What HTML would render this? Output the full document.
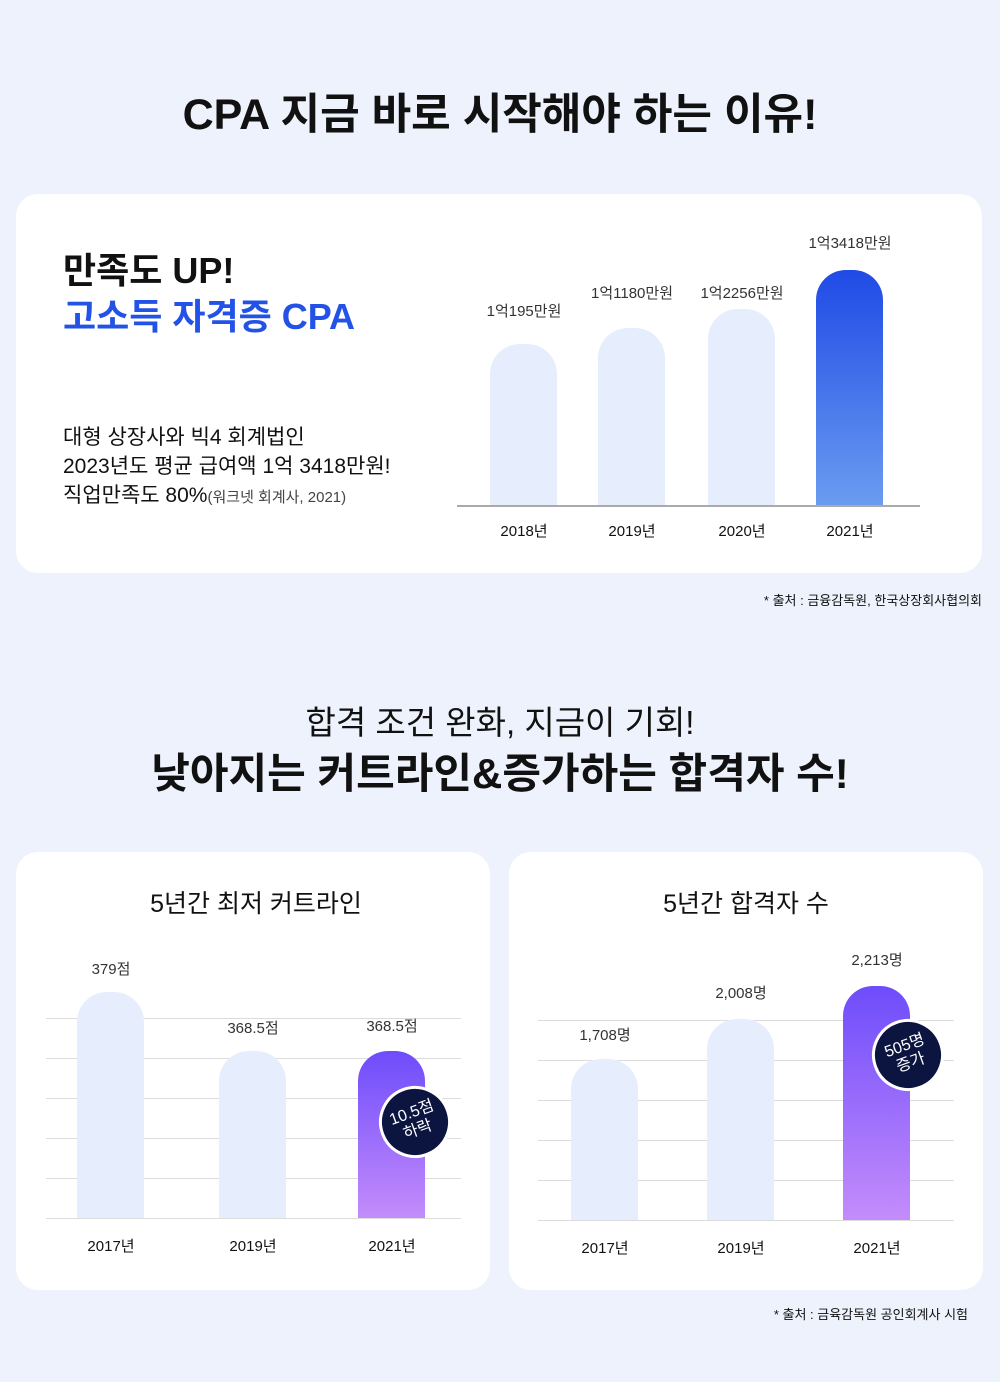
<!DOCTYPE html><html><head><meta charset="utf-8"><style>
*{margin:0;padding:0;box-sizing:border-box}
body{width:1000px;height:1382px;background:#eef2fc;font-family:"Liberation Sans","Noto Sans CJK KR",sans-serif;color:#111;position:relative;overflow:hidden}
.a{position:absolute}
.c{text-align:center;transform:translateX(-50%);white-space:nowrap}
.card{position:absolute;background:#fff;border-radius:22px}
.bar{position:absolute;border-radius:30px 30px 0 0;background:#e6edfd}
.g{position:absolute;height:1px;background:#dcdcdc}
.s{font-size:15px;color:#333}
.y{font-size:15px;color:#111}
.badge{position:absolute;width:72px;height:72px;border-radius:50%;background:#0c1540;border:3px solid #fff;color:#fff;font-size:16px;line-height:18px;display:flex;align-items:center;justify-content:center;text-align:center;transform:rotate(-20deg)}
</style></head><body>
<div class="a c" style="left:500px;top:80px;font-size:43px;font-weight:bold">CPA 지금 바로 시작해야 하는 이유!</div>
<div class="card" style="left:16px;top:194px;width:966px;height:379px"></div>
<div class="a" style="left:63px;top:248px;font-size:36px;font-weight:bold;line-height:46px">만족도 UP!<br><span style="color:#2352e6">고소득 자격증 CPA</span></div>
<div class="a" style="left:63px;top:423px;font-size:21px;line-height:29px">대형 상장사와 빅4 회계법인<br>2023년도 평균 급여액 1억 3418만원!<br>직업만족도 80%<span style="font-size:15px;color:#444">(워크넷 회계사, 2021)</span></div>
<div class="bar" style="left:490px;top:344px;width:67px;height:161px"></div>
<div class="bar" style="left:598px;top:328px;width:67px;height:177px"></div>
<div class="bar" style="left:708px;top:309px;width:67px;height:196px"></div>
<div class="bar" style="left:816px;top:270px;width:67px;height:235px;background:linear-gradient(#1f4ae6,#6a9cf0)"></div>
<div class="g" style="left:457px;top:505px;width:463px;background:#aaa;height:2px"></div>
<div class="a c s" style="left:524px;top:300px">1억195만원</div>
<div class="a c s" style="left:632px;top:282px">1억1180만원</div>
<div class="a c s" style="left:742px;top:282px">1억2256만원</div>
<div class="a c s" style="left:850px;top:232px">1억3418만원</div>
<div class="a c y" style="left:524px;top:520px">2018년</div>
<div class="a c y" style="left:632px;top:520px">2019년</div>
<div class="a c y" style="left:742px;top:520px">2020년</div>
<div class="a c y" style="left:850px;top:520px">2021년</div>
<div class="a" style="right:18px;top:590px;font-size:13px">* 출처 : 금융감독원, 한국상장회사협의회</div>
<div class="a c" style="left:500px;top:696px;font-size:33px">합격 조건 완화, 지금이 기회!</div>
<div class="a c" style="left:500px;top:740px;font-size:42px;font-weight:bold">낮아지는 커트라인&amp;증가하는 합격자 수!</div>
<div class="card" style="left:16px;top:852px;width:474px;height:438px"></div>
<div class="card" style="left:509px;top:852px;width:474px;height:438px"></div>
<div class="a c" style="left:256px;top:884px;font-size:25px">5년간 최저 커트라인</div>
<div class="a c" style="left:746px;top:884px;font-size:25px">5년간 합격자 수</div>
<div class="g" style="left:46px;top:1018px;width:415px"></div><div class="g" style="left:46px;top:1058px;width:415px"></div><div class="g" style="left:46px;top:1098px;width:415px"></div><div class="g" style="left:46px;top:1138px;width:415px"></div><div class="g" style="left:46px;top:1178px;width:415px"></div><div class="g" style="left:46px;top:1218px;width:415px"></div>
<div class="g" style="left:538px;top:1020px;width:416px"></div><div class="g" style="left:538px;top:1060px;width:416px"></div><div class="g" style="left:538px;top:1100px;width:416px"></div><div class="g" style="left:538px;top:1140px;width:416px"></div><div class="g" style="left:538px;top:1180px;width:416px"></div><div class="g" style="left:538px;top:1220px;width:416px"></div>
<div class="bar" style="left:77px;top:992px;width:67px;height:226px"></div>
<div class="bar" style="left:219px;top:1051px;width:67px;height:167px"></div>
<div class="bar" style="left:358px;top:1051px;width:67px;height:167px;background:linear-gradient(#6e4cfb,#c48cfb)"></div>
<div class="bar" style="left:571px;top:1059px;width:67px;height:161px"></div>
<div class="bar" style="left:707px;top:1019px;width:67px;height:201px"></div>
<div class="bar" style="left:843px;top:986px;width:67px;height:234px;background:linear-gradient(#6e4cfb,#c48cfb)"></div>
<div class="a c s" style="left:111px;top:958px">379점</div>
<div class="a c s" style="left:253px;top:1017px">368.5점</div>
<div class="a c s" style="left:392px;top:1015px">368.5점</div>
<div class="a c s" style="left:605px;top:1024px">1,708명</div>
<div class="a c s" style="left:741px;top:982px">2,008명</div>
<div class="a c s" style="left:877px;top:949px">2,213명</div>
<div class="a c y" style="left:111px;top:1235px">2017년</div>
<div class="a c y" style="left:253px;top:1235px">2019년</div>
<div class="a c y" style="left:392px;top:1235px">2021년</div>
<div class="a c y" style="left:605px;top:1237px">2017년</div>
<div class="a c y" style="left:741px;top:1237px">2019년</div>
<div class="a c y" style="left:877px;top:1237px">2021년</div>
<div class="badge" style="left:379px;top:1086px">10.5점<br>하락</div>
<div class="badge" style="left:872px;top:1019px">505명<br>증가</div>
<div class="a" style="right:32px;top:1304px;font-size:13px">* 출처 : 금육감독원 공인회계사 시험</div>
</body></html>
